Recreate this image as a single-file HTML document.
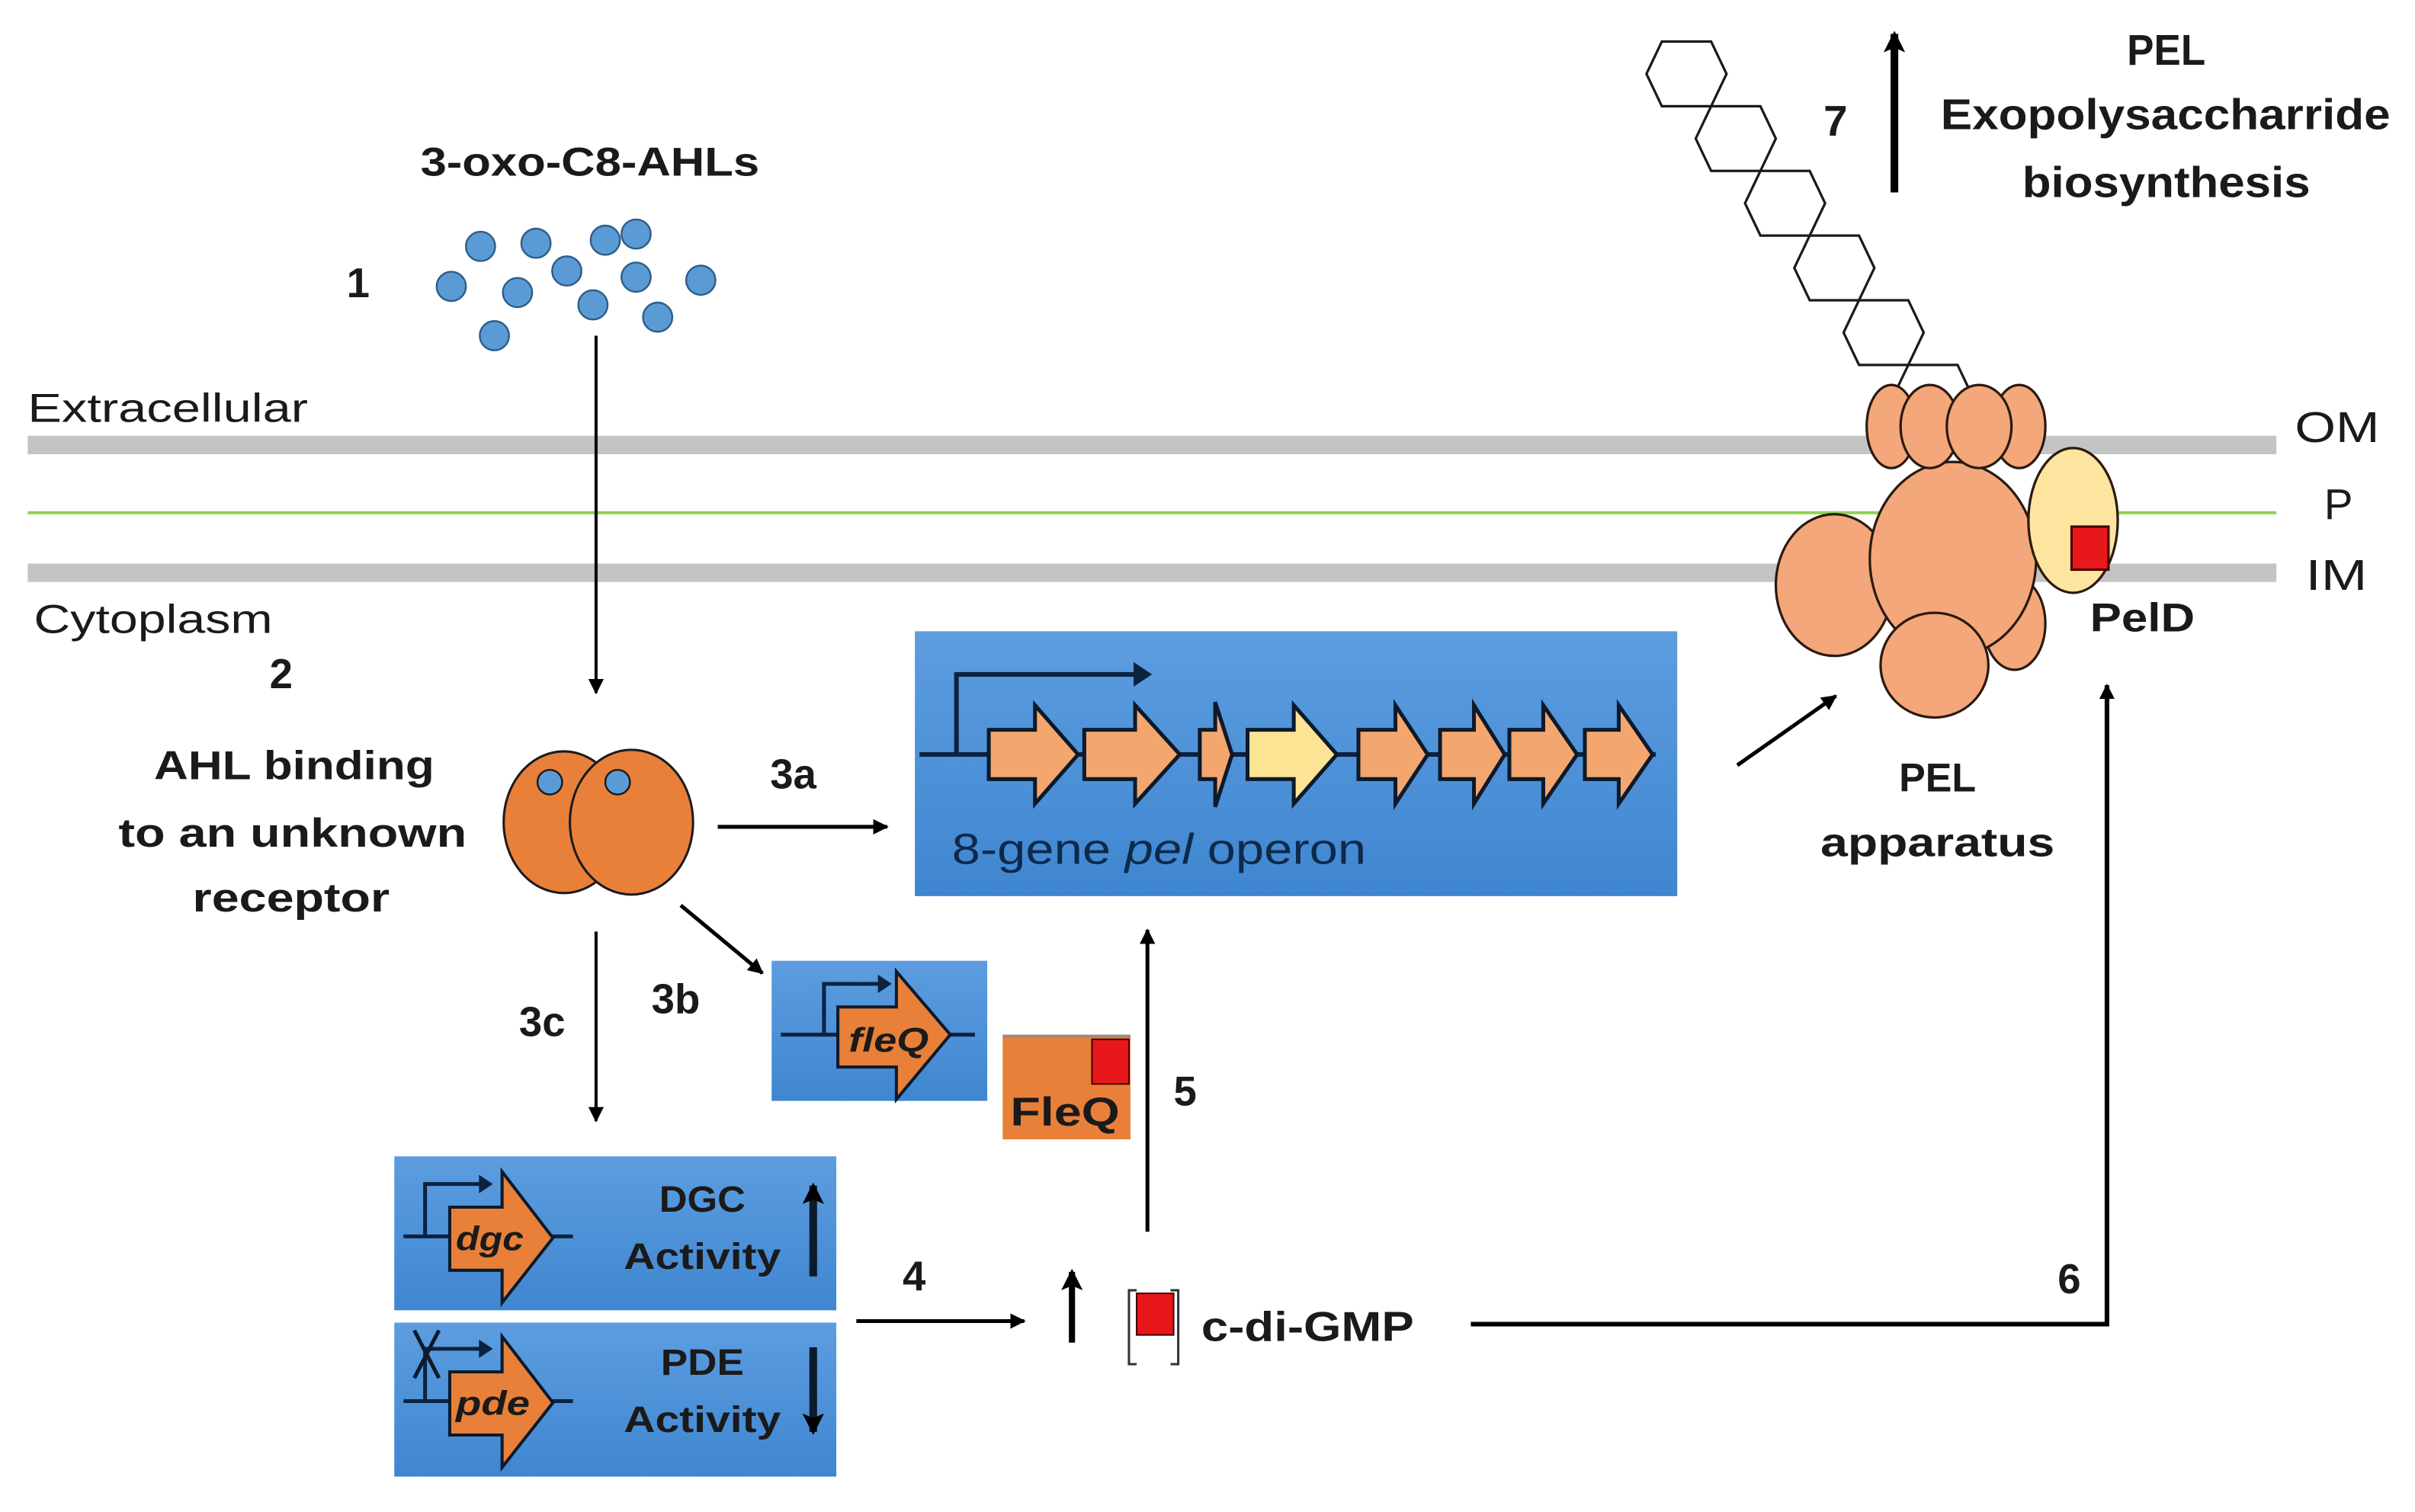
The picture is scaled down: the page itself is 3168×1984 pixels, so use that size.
<!DOCTYPE html>
<html><head><meta charset="utf-8"><style>
html,body{margin:0;padding:0;background:#fff;}
svg{display:block;}
text{font-family:"Liberation Sans",sans-serif;fill:#1a1a1a;}
.b{font-weight:bold;}
</style></head><body>
<svg width="3168" height="1984" viewBox="0 0 1568 982" preserveAspectRatio="none" xmlns="http://www.w3.org/2000/svg">
<defs>
<marker id="ah" markerWidth="10" markerHeight="10" refX="9" refY="5" orient="auto" markerUnits="userSpaceOnUse"><path d="M0,0 L10,5 L0,10 Z" fill="#000"/></marker>
<marker id="ahb" markerWidth="14" markerHeight="14" refX="12" refY="7" orient="auto" markerUnits="userSpaceOnUse"><path d="M0,0 L14,7 L0,14 L3,7 Z" fill="#000"/></marker>
<linearGradient id="bg" x1="0" y1="0" x2="0" y2="1"><stop offset="0" stop-color="#5d9de0"/><stop offset="1" stop-color="#3f86d0"/></linearGradient>
</defs>
<rect width="1568" height="982" fill="#fff"/>

<!-- membranes -->
<rect x="18" y="283" width="1460" height="12" fill="#c4c4c4"/>
<rect x="18" y="332" width="1460" height="2" fill="#8fd14f"/>
<rect x="18" y="366" width="1460" height="12" fill="#c4c4c4"/>
<text x="18" y="274" font-size="26" textLength="182" lengthAdjust="spacingAndGlyphs">Extracellular</text>
<text x="22" y="411" font-size="26" textLength="155" lengthAdjust="spacingAndGlyphs">Cytoplasm</text>
<text x="1490" y="287" font-size="28" textLength="55" lengthAdjust="spacingAndGlyphs">OM</text>
<text x="1509" y="337" font-size="28">P</text>
<text x="1497" y="383" font-size="28" textLength="40" lengthAdjust="spacingAndGlyphs">IM</text>

<!-- AHLs -->
<text class="b" x="273" y="114" font-size="26" textLength="220" lengthAdjust="spacingAndGlyphs">3-oxo-C8-AHLs</text>
<text class="b" x="225" y="193" font-size="27">1</text>
<g fill="#5b9bd5" stroke="#2e5d8a" stroke-width="1.2">
<circle cx="293" cy="186" r="9.5"/><circle cx="312" cy="160" r="9.5"/><circle cx="348" cy="158" r="9.5"/>
<circle cx="393" cy="156" r="9.5"/><circle cx="413" cy="152" r="9.5"/><circle cx="368" cy="176" r="9.5"/>
<circle cx="336" cy="190" r="9.5"/><circle cx="413" cy="180" r="9.5"/><circle cx="455" cy="182" r="9.5"/>
<circle cx="385" cy="198" r="9.5"/><circle cx="427" cy="206" r="9.5"/><circle cx="321" cy="218" r="9.5"/>
</g>
<line x1="387" y1="218" x2="387" y2="450" stroke="#000" stroke-width="2" marker-end="url(#ah)"/>

<text class="b" x="175" y="447" font-size="27">2</text>
<text class="b" x="100" y="506" font-size="26" textLength="182" lengthAdjust="spacingAndGlyphs">AHL binding</text>
<text class="b" x="77" y="550" font-size="26" textLength="226" lengthAdjust="spacingAndGlyphs">to an unknown</text>
<text class="b" x="125" y="592" font-size="26" textLength="128" lengthAdjust="spacingAndGlyphs">receptor</text>

<!-- receptor -->
<ellipse cx="366" cy="534" rx="39" ry="46" fill="#e8803a" stroke="#1a1a1a" stroke-width="1.5"/>
<ellipse cx="410" cy="534" rx="40" ry="47" fill="#e8803a" stroke="#1a1a1a" stroke-width="1.5"/>
<circle cx="357" cy="508" r="8" fill="#5b9bd5" stroke="#1a1a1a" stroke-width="1.2"/>
<circle cx="401" cy="508" r="8" fill="#5b9bd5" stroke="#1a1a1a" stroke-width="1.2"/>

<!-- 3a -->
<line x1="466" y1="537" x2="576" y2="537" stroke="#000" stroke-width="2.5" marker-end="url(#ah)"/>
<text class="b" x="500" y="512" font-size="27">3a</text>

<!-- pel operon -->
<rect x="594" y="410" width="495" height="172" fill="url(#bg)"/>
<line x1="597" y1="490" x2="1075" y2="490" stroke="#0d2240" stroke-width="3"/>
<polyline points="621,490 621,438 740,438" fill="none" stroke="#0d2240" stroke-width="3"/>
<path d="M736,430 L748,438 L736,446 Z" fill="#0d2240"/>
<g stroke="#0d1a2a" stroke-width="2.5" stroke-linejoin="miter">
<path d="M642,474 H672 V458 L700,490 L672,522 V506 H642 Z" fill="#f4a66f"/>
<path d="M704,474 H737 V458 L766,490 L737,522 V506 H704 Z" fill="#f4a66f"/>
<path d="M779,474 H789 V456 L800,490 L789,524 V506 H779 Z" fill="#f4a66f"/>
<path d="M810,474 H840 V458 L868,490 L840,522 V506 H810 Z" fill="#fde394"/>
<path d="M882,474 H906 V458 L927,490 L906,522 V506 H882 Z" fill="#f4a66f"/>
<path d="M935,474 H957 V458 L977,490 L957,522 V506 H935 Z" fill="#f4a66f"/>
<path d="M980,474 H1002 V458 L1024,490 L1002,522 V506 H980 Z" fill="#f4a66f"/>
<path d="M1029,474 H1051 V458 L1073,490 L1051,522 V506 H1029 Z" fill="#f4a66f"/>
</g>
<text x="618" y="561" font-size="28" style="fill:#0d2a4a" textLength="269" lengthAdjust="spacingAndGlyphs">8-gene <tspan font-style="italic">pel</tspan> operon</text>

<!-- arrow to apparatus -->
<line x1="1128" y1="497" x2="1192" y2="452" stroke="#000" stroke-width="2.5" marker-end="url(#ah)"/>

<!-- hexagons -->
<g fill="#fff" stroke="#1a1a1a" stroke-width="1.6">
<polygon points="1069,48 1079,27 1111,27 1121,48 1111,69 1079,69"/>
<polygon points="1101,90 1111,69 1143,69 1153,90 1143,111 1111,111"/>
<polygon points="1133,132 1143,111 1175,111 1185,132 1175,153 1143,153"/>
<polygon points="1165,174 1175,153 1207,153 1217,174 1207,195 1175,195"/>
<polygon points="1197,216 1207,195 1239,195 1249,216 1239,237 1207,237"/>
<polygon points="1229,258 1239,237 1271,237 1281,258 1271,279 1239,279"/>
</g>
<line x1="1230" y1="125" x2="1230" y2="22" stroke="#000" stroke-width="5" marker-end="url(#ahb)"/>
<text class="b" x="1184" y="88" font-size="28">7</text>
<text class="b" x="1381" y="42" font-size="28" textLength="51" lengthAdjust="spacingAndGlyphs">PEL</text>
<text class="b" x="1260" y="84" font-size="28" textLength="292" lengthAdjust="spacingAndGlyphs">Exopolysaccharride</text>
<text class="b" x="1313" y="128" font-size="28" textLength="187" lengthAdjust="spacingAndGlyphs">biosynthesis</text>

<!-- apparatus -->
<g stroke="#2a1a10" stroke-width="1.6" fill="#f4a77a">
<ellipse cx="1308" cy="405" rx="20" ry="30"/>
<ellipse cx="1191" cy="380" rx="38" ry="46"/>
<ellipse cx="1268" cy="363" rx="54" ry="63"/>
<ellipse cx="1256" cy="432" rx="35" ry="34"/>
<ellipse cx="1346" cy="338" rx="29" ry="47" fill="#fde5a0"/>
<ellipse cx="1228" cy="277" rx="16" ry="27"/>
<ellipse cx="1311" cy="277" rx="17" ry="27"/>
<ellipse cx="1253" cy="277" rx="19" ry="27"/>
<ellipse cx="1285" cy="277" rx="21" ry="27"/>
</g>
<rect x="1345" y="342" width="24" height="28" fill="#e8181a" stroke="#400" stroke-width="1.5"/>
<text class="b" x="1357" y="410" font-size="26" textLength="68" lengthAdjust="spacingAndGlyphs">PelD</text>
<text class="b" x="1233" y="514" font-size="26" textLength="50" lengthAdjust="spacingAndGlyphs">PEL</text>
<text class="b" x="1182" y="556" font-size="26" textLength="152" lengthAdjust="spacingAndGlyphs">apparatus</text>

<!-- 3b -->
<line x1="442" y1="588" x2="495" y2="632" stroke="#000" stroke-width="2.5" marker-end="url(#ah)"/>
<text class="b" x="423" y="658" font-size="27">3b</text>
<rect x="501" y="624" width="140" height="91" fill="url(#bg)"/>
<line x1="507" y1="672" x2="633" y2="672" stroke="#0d2240" stroke-width="2.5"/>
<polyline points="535,672 535,639 572,639" fill="none" stroke="#0d2240" stroke-width="2.5"/>
<path d="M570,633 L579,639 L570,645 Z" fill="#0d2240"/>
<path d="M544,654 H582 V631 L617,672 L582,714 V693 H544 Z" fill="#e8803a" stroke="#0d1a2a" stroke-width="2"/>
<text class="b" x="551" y="683" font-size="22" font-style="italic" textLength="52" lengthAdjust="spacingAndGlyphs">fleQ</text>

<!-- FleQ protein -->
<rect x="651" y="672" width="83" height="68" fill="#e8803a"/>
<rect x="651" y="672" width="83" height="2" fill="#a08a80"/>
<rect x="709" y="675" width="24" height="29" fill="#e8181a" stroke="#400" stroke-width="1"/>
<text class="b" x="656" y="731" font-size="26" textLength="71" lengthAdjust="spacingAndGlyphs">FleQ</text>

<!-- 5 -->
<line x1="745" y1="800" x2="745" y2="604" stroke="#000" stroke-width="2.5" marker-end="url(#ah)"/>
<text class="b" x="762" y="718" font-size="27">5</text>

<!-- 3c -->
<line x1="387" y1="605" x2="387" y2="728" stroke="#000" stroke-width="2" marker-end="url(#ah)"/>
<text class="b" x="337" y="673" font-size="27">3c</text>

<!-- DGC box -->
<rect x="256" y="751" width="287" height="100" fill="url(#bg)"/>
<line x1="262" y1="803" x2="372" y2="803" stroke="#0d2240" stroke-width="2.5"/>
<polyline points="276,803 276,769 313,769" fill="none" stroke="#0d2240" stroke-width="2.5"/>
<path d="M311,763 L320,769 L311,775 Z" fill="#0d2240"/>
<path d="M292,784 H326 V761 L359,804 L326,846 V825 H292 Z" fill="#e8803a" stroke="#0d1a2a" stroke-width="2"/>
<text class="b" x="296" y="812" font-size="22" font-style="italic" textLength="44" lengthAdjust="spacingAndGlyphs">dgc</text>
<text class="b" x="428" y="787" font-size="24" textLength="56" lengthAdjust="spacingAndGlyphs">DGC</text>
<text class="b" x="405" y="824" font-size="24" textLength="102" lengthAdjust="spacingAndGlyphs">Activity</text>
<line x1="528" y1="829" x2="528" y2="770" stroke="#0d1a2a" stroke-width="5" marker-end="url(#ahb)"/>

<!-- PDE box -->
<rect x="256" y="859" width="287" height="100" fill="url(#bg)"/>
<line x1="262" y1="910" x2="372" y2="910" stroke="#0d2240" stroke-width="2.5"/>
<polyline points="276,910 276,876 313,876" fill="none" stroke="#0d2240" stroke-width="2.5"/>
<path d="M311,870 L320,876 L311,882 Z" fill="#0d2240"/>
<path d="M269,864 L285,895 M285,864 L269,895" stroke="#0d1a2a" stroke-width="2.5"/>
<path d="M292,891 H326 V868 L359,911 L326,953 V932 H292 Z" fill="#e8803a" stroke="#0d1a2a" stroke-width="2"/>
<text class="b" x="296" y="919" font-size="22" font-style="italic" textLength="48" lengthAdjust="spacingAndGlyphs">pde</text>
<text class="b" x="429" y="893" font-size="24" textLength="54" lengthAdjust="spacingAndGlyphs">PDE</text>
<text class="b" x="405" y="930" font-size="24" textLength="102" lengthAdjust="spacingAndGlyphs">Activity</text>
<line x1="528" y1="875" x2="528" y2="930" stroke="#0d1a2a" stroke-width="5" marker-end="url(#ahb)"/>

<!-- 4 -->
<line x1="556" y1="858" x2="665" y2="858" stroke="#000" stroke-width="2.5" marker-end="url(#ah)"/>
<text class="b" x="586" y="838" font-size="27">4</text>
<line x1="696" y1="872" x2="696" y2="826" stroke="#000" stroke-width="4" marker-end="url(#ahb)"/>

<!-- c-di-GMP -->
<path d="M738,838 H733 V886 H738" fill="none" stroke="#333" stroke-width="1.5"/>
<path d="M760,838 H765 V886 H760" fill="none" stroke="#333" stroke-width="1.5"/>
<rect x="738" y="840" width="24" height="27" fill="#e8181a" stroke="#400" stroke-width="1"/>
<text class="b" x="780" y="871" font-size="27" textLength="138" lengthAdjust="spacingAndGlyphs">c-di-GMP</text>

<!-- 6 -->
<polyline points="955,860 1368,860 1368,445" fill="none" stroke="#000" stroke-width="3" marker-end="url(#ah)"/>
<text class="b" x="1336" y="840" font-size="27">6</text>
</svg>
</body></html>
